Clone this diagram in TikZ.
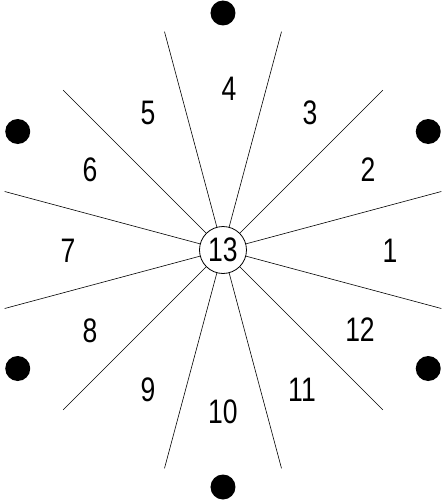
\documentclass[tikz,border=0pt]{standalone}
\usepackage{fontspec}
\setmainfont{Liberation Sans}[FakeStretch=0.78]

\begin{document}
\begin{tikzpicture}
                [x=1pt, y=1pt,
                  every node/.style={font=\fontsize{34}{34}\selectfont},
                  hub/.style={circle, draw, line width=0.8pt, minimum size=47pt, inner sep=0pt},
                  spoke/.style={line width=0.6pt},
                  marker/.style={circle, fill=black, minimum size=25pt, inner sep=0pt},
                ]
                \useasboundingbox (-223,-254) rectangle (224,250);
                \node [hub] (hub) {13};
                \foreach \a in {15,45,...,345}{
                  \coordinate (end\a) at (\a:226);
                  \draw [spoke] (hub) -- (end\a);
                }
                \foreach \n/\px/\py in {1/167/-1, 2/145/80, 3/87/137, 4/6/161,
                                        5/-75/137, 6/-133/80, 7/-155/-1, 8/-133/-81,
                                        9/-75/-140, 10/0/-162, 11/79/-140, 12/137/-80}
                  \node (sector\n) at (\px,\py) {\n};
                \foreach \a in {30,90,...,330}
                  \node [marker] (dot\a) at (\a:237) {};
\end{tikzpicture}
\end{document}
